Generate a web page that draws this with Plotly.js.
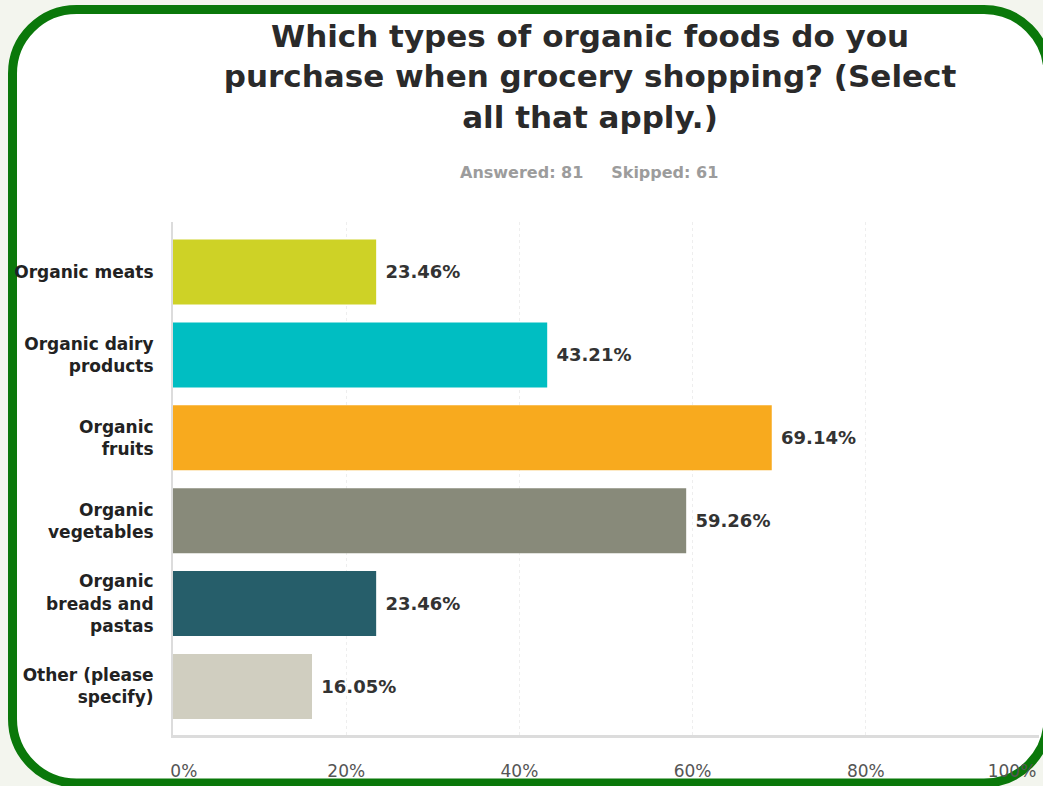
<!DOCTYPE html>
<html>
<head>
<meta charset="utf-8">
<script src="https://cdn.plot.ly/plotly-3.0.1.min.js"></script>
<style>
  html, body { margin: 0; padding: 0; background: #f3f5ee; }
  #chart { width: 1043px; height: 786px; }
</style>
</head>
<body>
<div id="chart"></div>
<script>
// ---- data ----
const categories = [
  "Organic meats",
  "Organic dairy<br>products",
  "Organic<br>fruits",
  "Organic<br>vegetables",
  "Organic<br>breads and<br>pastas",
  "Other (please<br>specify)"
];
const percentValues = [23.46, 43.21, 69.14, 59.26, 23.46, 16.05];
const barColors = ["#ced226", "#00bec2", "#f8aa1e", "#888a7a", "#265e6a", "#d0cec0"];
const tickValues = [0, 20, 40, 60, 80, 100];
const tickLabels = ["0%", "20%", "40%", "60%", "80%", "100%"];
const titleText = "Which types of organic foods do you<br>purchase when grocery shopping? (Select<br>all that apply.)";
const subtitleText = "Answered: 81\u00a0\u00a0\u00a0\u00a0\u00a0Skipped: 61";

// ---- geometry helpers (pixel -> paper) ----
const W = 1043, H = 786;
const M = { l: 173, r: 4, t: 222, b: 51 };
const PW = W - M.l - M.r, PH = H - M.t - M.b;
const X = px => ((px - M.l) / PW).toFixed(5);
const Y = py => ((H - M.b - py) / PH).toFixed(5);

function roundedRectPath(x0, y0, x1, y1, r) {
  const k = 0.5523 * r;
  return [
    "M", X(x0 + r), Y(y0),
    "L", X(x1 - r), Y(y0),
    "C", X(x1 - r + k), Y(y0), X(x1), Y(y0 + r - k), X(x1), Y(y0 + r),
    "L", X(x1), Y(y1 - r),
    "C", X(x1), Y(y1 - r + k), X(x1 - r + k), Y(y1), X(x1 - r), Y(y1),
    "L", X(x0 + r), Y(y1),
    "C", X(x0 + r - k), Y(y1), X(x0), Y(y1 - r + k), X(x0), Y(y1 - r),
    "L", X(x0), Y(y0 + r),
    "C", X(x0), Y(y0 + r - k), X(x0 + r - k), Y(y0), X(x0 + r), Y(y0),
    "Z"
  ].join(" ");
}

// the end tick labels sit inside the frame, as in the reference
const NB = "\u00a0";
const shownTickLabels = tickLabels.map((t, i) =>
  i === 0 ? NB.repeat(4) + t : (i === tickLabels.length - 1 ? t + NB.repeat(10) : t));

const FONT = "DejaVu Sans, Arial, sans-serif";

const trace = {
  type: "bar",
  orientation: "h",
  y: categories,
  x: percentValues,
  marker: { color: barColors, line: { width: 0 } },
  texttemplate: NB + "%{x:.2f}%",
  textposition: "outside",
  textfont: { family: FONT, size: 18, color: "#333333", weight: "bold" },
  cliponaxis: false,
  hoverinfo: "skip"
};

const layout = {
  width: W,
  height: H,
  margin: { l: M.l, r: M.r, t: M.t, b: M.b, pad: 0 },
  paper_bgcolor: "#f3f5ee",
  plot_bgcolor: "rgba(0,0,0,0)",
  showlegend: false,
  bargap: 0.216,
  title: {
    text: titleText,
    font: { family: FONT, size: 31, color: "#2a2a2a", weight: "bold" },
    xref: "container", x: 590 / W, xanchor: "center",
    yref: "container", y: 1 - 47 / H, yanchor: "top"
  },
  xaxis: {
    range: [0, 100],
    autorange: false,
    tickvals: tickValues,
    ticktext: shownTickLabels,
    ticks: "",
    ticklabelstandoff: 19,
    ticklabeloverflow: "allow",
    tickfont: { family: FONT, size: 17, color: "#555555" },
    showline: true,
    linecolor: "#dcdcdc",
    linewidth: 3,
    showgrid: true,
    gridcolor: "#eeeeee",
    griddash: "dot",
    gridwidth: 1,
    zeroline: false,
    fixedrange: true
  },
  yaxis: {
    type: "category",
    range: [5.585, -0.603],
    autorange: false,
    ticks: "",
    ticklabelstandoff: 14,
    tickfont: { family: FONT, size: 17, color: "#222222", weight: "bold" },
    showline: true,
    linecolor: "#dcdcdc",
    linewidth: 2,
    showgrid: false,
    zeroline: false,
    fixedrange: true
  },
  annotations: [{
    text: subtitleText,
    xref: "paper", yref: "paper",
    x: X(589), y: Y(173),
    xanchor: "center", yanchor: "middle",
    showarrow: false,
    font: { family: FONT, size: 16, color: "#9c9c9c", weight: "bold" }
  }],
  shapes: [{
    type: "path",
    xref: "paper", yref: "paper",
    path: roundedRectPath(12.5, 9.5, 1048, 783, 64),
    fillcolor: "#ffffff",
    line: { color: "#0a780a", width: 9 },
    layer: "below"
  }]
};

Plotly.newPlot("chart", [trace], layout, { displayModeBar: false, staticPlot: true });
</script>
</body>
</html>
